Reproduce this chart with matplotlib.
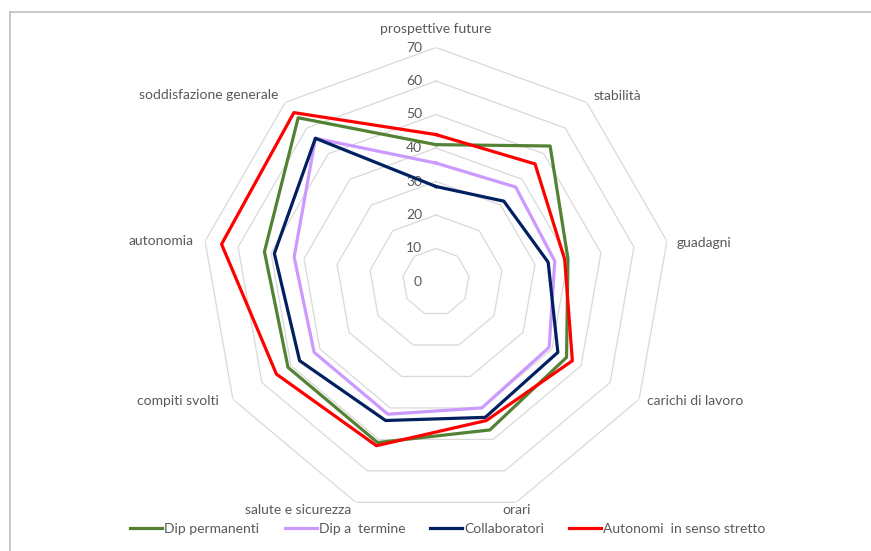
import numpy as np
import matplotlib
matplotlib.use("Agg")
import matplotlib.pyplot as plt
from matplotlib.lines import Line2D

plt.rcParams['font.family'] = ['Lato', 'DejaVu Sans']

# Data
categories = ["prospettive future", "stabilità", "guadagni", "carichi di lavoro",
              "orari", "salute e sicurezza", "compiti svolti", "autonomia",
              "soddisfazione generale"]
series_names = ["Dip permanenti", "Dip a  termine", "Collaboratori",
                "Autonomi  in senso stretto"]
dip_permanenti = [41, 53, 40, 45, 47, 51, 51, 52, 64]
dip_termine = [35.5, 37, 36, 39, 40, 42, 42, 43, 56]
collaboratori = [28.5, 31.5, 34, 42, 43, 44, 47, 49, 56]
autonomi = [44, 46, 39, 47, 44, 52, 55, 65, 66]
series_colors = ["#548235", "#CC99FF", "#002060", "#FF0000"]
rings = [10, 20, 30, 40, 50, 60, 70]
ring_labels = ["0", "10", "20", "30", "40", "50", "60", "70"]

W, H = 871, 551
fig = plt.figure(figsize=(W / 100, H / 100), dpi=100)

# figure frame (top and left edges visible)
fig.add_artist(Line2D([10 / W, 1], [1 - 12 / H, 1 - 12 / H], color="#BFBFBF", lw=1.2))
fig.add_artist(Line2D([10 / W, 10 / W], [0, 1 - 12 / H], color="#BFBFBF", lw=1.2))

cx, cy, R = 436, 282, 234.5
ax = fig.add_axes([(cx - R) / W, (H - cy - R) / H, 2 * R / W, 2 * R / H], polar=True)
ax.set_theta_offset(np.pi / 2)
ax.set_theta_direction(-1)
ax.set_ylim(0, 70)
ax.axis("off")

n = len(categories)
angles = np.arange(n) * 2 * np.pi / n
closed = np.append(angles, angles[0])

# polygon grid (no spokes)
grid_col = "#D9D9D9"
for r in rings:
    ax.plot(closed, [r] * (n + 1), color=grid_col, lw=0.9, zorder=1)

# radial labels
for i, lab in enumerate(ring_labels):
    ax.annotate(lab, xy=(0, i * 10), xytext=(-10, 0), textcoords="offset points",
                ha="right", va="center", fontsize=10, color="#595959")

# series
data = [dip_permanenti, dip_termine, collaboratori, autonomi]
for vals, col, name in zip(data, series_colors, series_names):
    ax.plot(closed, vals + vals[:1], color=col, lw=2.3, label=name, zorder=3)

# category labels
label_pos = [
    (0, 9, "center", "bottom"),
    (5, 0, "left", "bottom"),
    (7, -1, "left", "center"),
    (6, -1, "left", "center"),
    (0, -1, "center", "top"),
    (-3, -1, "right", "top"),
    (-10, -1, "right", "center"),
    (-8, 0, "right", "center"),
    (-5, 1, "right", "bottom"),
]
for a, lab, (dx, dy, ha, va) in zip(angles, categories, label_pos):
    ax.annotate(lab, xy=(a, 70), xytext=(dx, dy), textcoords="offset points",
                ha=ha, va=va, fontsize=10, color="#595959")

handles = [Line2D([0], [0], color=c, lw=2.3) for c in series_colors]
fig.legend(handles, series_names, loc="center", bbox_to_anchor=(448 / W, 1 - 529 / H),
           ncol=4, frameon=False, fontsize=10, handlelength=2.3, handletextpad=0.15,
           columnspacing=1.8, labelcolor="#595959")

fig.savefig("out.png", dpi=100)
